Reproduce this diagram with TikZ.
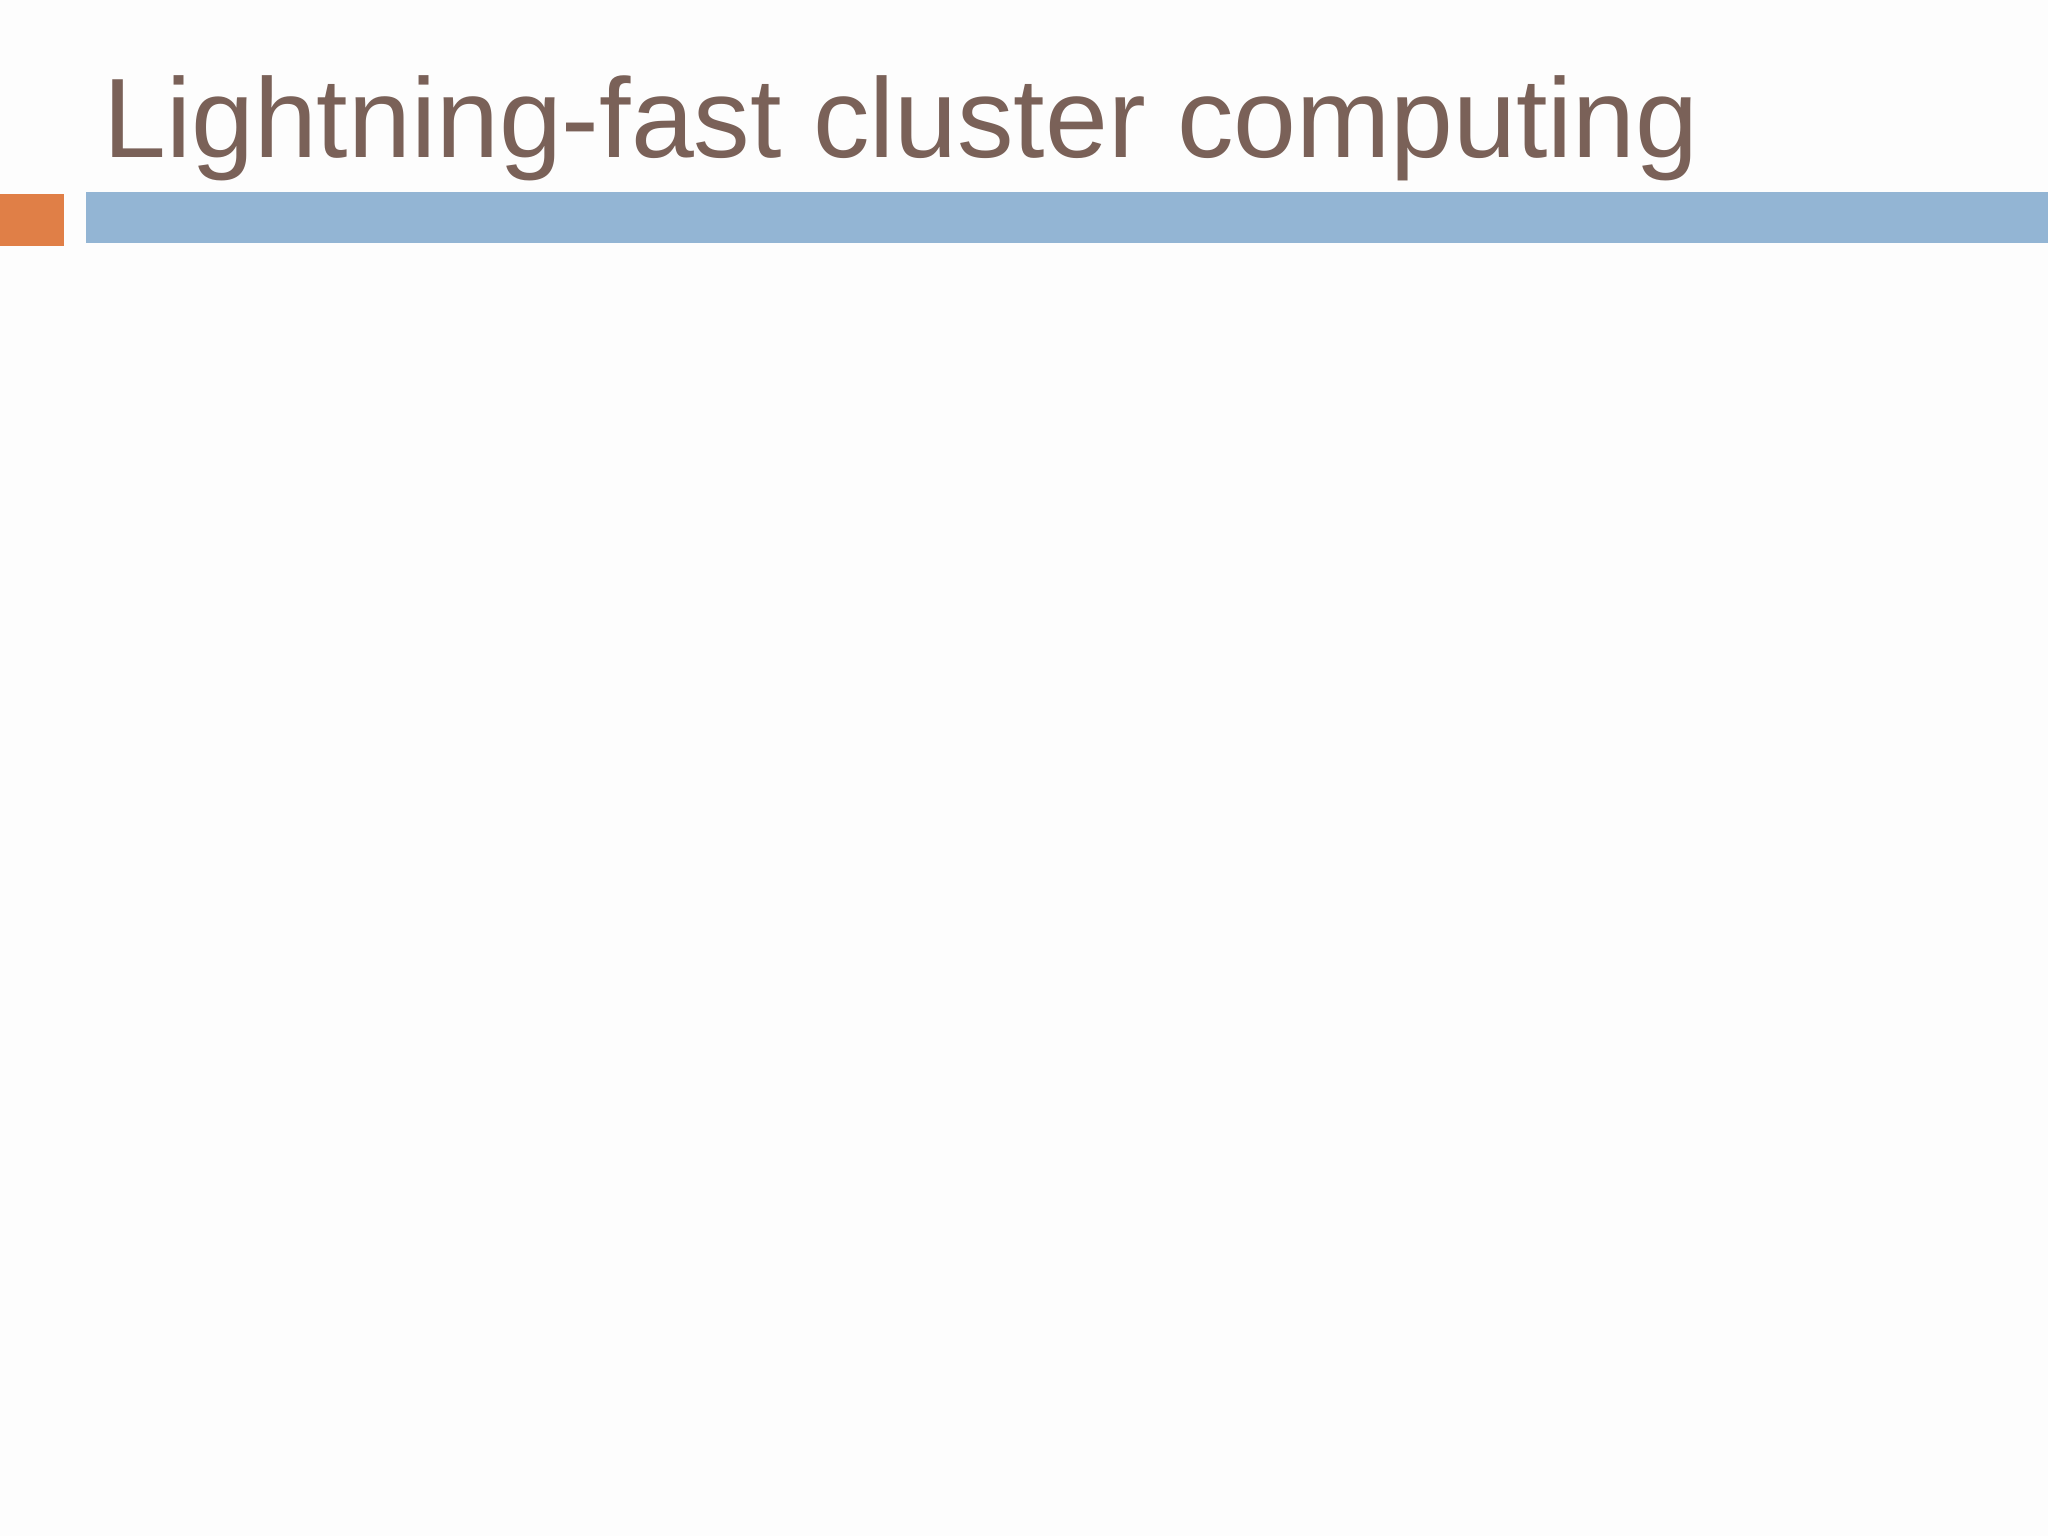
\documentclass[tikz,border=0pt]{standalone}
\usepackage{fontspec}
\setmainfont{Liberation Sans}
\definecolor{bg}{HTML}{FDFDFD}
\definecolor{titlec}{HTML}{7A6158}
\definecolor{orangec}{HTML}{E07F47}
\definecolor{bluec}{HTML}{93B5D4}
\begin{document}
\begin{tikzpicture}[x=0.5pt,y=-0.5pt]
\fill[bg] (0,0) rectangle (2048,1536);
\useasboundingbox (0,0) rectangle (2048,1536);
\fill[orangec] (0,194) rectangle (64,246);
\fill[bluec] (86,192) rectangle (2048,243);
\node[anchor=base west,inner sep=0pt,text=titlec,font=\fontsize{56.5pt}{60pt}\selectfont] (title) at (103,157) {Lightning-fast cluster computing};
\end{tikzpicture}
\end{document}
